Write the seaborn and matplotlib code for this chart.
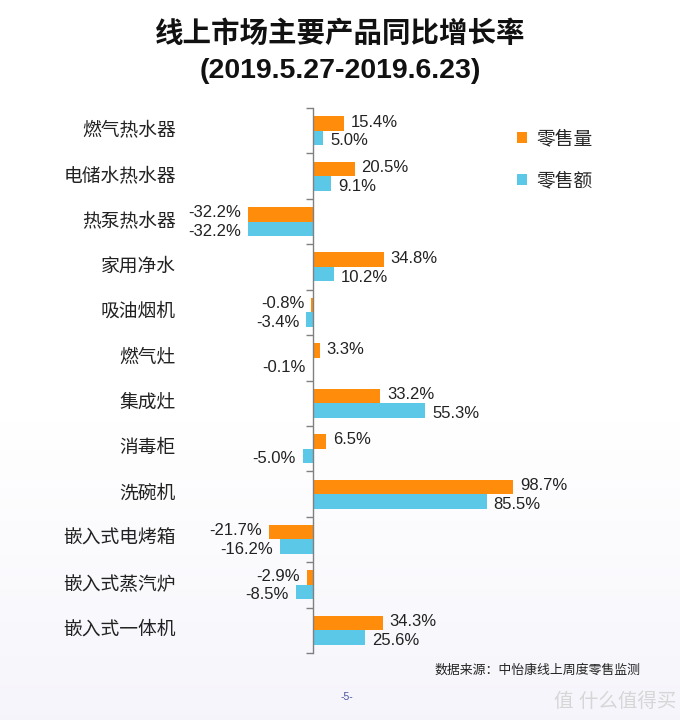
import numpy as np
import pandas as pd
import matplotlib
matplotlib.use("Agg")
import matplotlib.pyplot as plt
import seaborn as sns

# 数据
products = ["燃气热水器", "电储水热水器", "热泵热水器", "家用净水", "吸油烟机", "燃气灶",
            "集成灶", "消毒柜", "洗碗机", "嵌入式电烤箱", "嵌入式蒸汽炉", "嵌入式一体机"]
volume = [15.4, 20.5, -32.2, 34.8, -0.8, 3.3, 33.2, 6.5, 98.7, -21.7, -2.9, 34.3]
amount = [5.0, 9.1, -32.2, 10.2, -3.4, -0.1, 55.3, -5.0, 85.5, -16.2, -8.5, 25.6]
series = ["零售量", "零售额"]
colors = ["#FF8C0A", "#5BC8E8"]

df = pd.DataFrame({
    "product": products * 2,
    "value": volume + amount,
    "metric": [series[0]] * len(products) + [series[1]] * len(products),
})

sns.set_style("white")
plt.rcParams["font.family"] = ["Liberation Sans", "Noto Sans CJK SC", "DejaVu Sans"]

fig = plt.figure(figsize=(6.8, 7.2), dpi=100)

# 背景渐变（底部略带淡紫）
bg = fig.add_axes([0, 0, 1, 1], zorder=-10)
grad = np.ones((720, 1, 3))
t = np.clip((np.arange(720) - 420) / 300, 0, 1)[:, None]
grad[:, 0, :] = 1 - t * np.array([0.035, 0.04, 0.015])
bg.imshow(grad, aspect="auto", extent=[0, 1, 0, 1], origin="upper")
bg.axis("off")

ax = fig.add_axes([150 / 680, 67 / 720, 500 / 680, 545 / 720])
ax.patch.set_alpha(0)
sns.barplot(data=df, y="product", x="value", hue="metric", palette=colors,
            saturation=1, width=0.64, linewidth=0, ax=ax, orient="h")

# 数值标签：橙色略上移，蓝色略下移
for c, dy in zip(ax.containers, [1.0, -2.0]):
    texts = ax.bar_label(c, fmt="%.1f%%", padding=5, fontsize=12, color="#222222")
    for txt in texts:
        x0, _ = txt.xyann
        txt.xyann = (x0, dy)

ax.set_xlim(-80.3, 166)
ax.set_ylim(len(products) - 0.5, -0.5)
ax.set_xlabel("")
ax.set_ylabel("")

for s in ["top", "right", "bottom"]:
    ax.spines[s].set_visible(False)
ax.spines["left"].set_position(("data", 0))
ax.spines["left"].set_color("#808080")
ax.spines["left"].set_linewidth(1.0)
ax.set_xticks([])
ax.set_yticks(np.arange(-0.5, len(products), 1.0))
ax.set_yticklabels([])
ax.tick_params(axis="y", left=True, direction="out", length=5, color="#808080", width=1)

for i, p in enumerate(products):
    ax.text(0.052, i, p, transform=ax.get_yaxis_transform(), ha="right", va="center",
            fontsize=13.5, color="#222222")

handles, labels = ax.get_legend_handles_labels()
ax.legend(handles, labels, loc="upper left", bbox_to_anchor=(0.70, 0.99), frameon=False,
          fontsize=13.5, handlelength=0.55, handleheight=0.55, handletextpad=0.5,
          labelspacing=1.3)

fig.text(0.5, 0.953, "线上市场主要产品同比增长率", ha="center", va="center",
         fontsize=20.5, fontweight="bold", color="#111111")
fig.text(0.5, 0.901, "(2019.5.27-2019.6.23)", ha="center", va="center",
         fontsize=20.5, fontweight="bold", color="#111111")

fig.text(0.942, 0.069, "数据来源：中怡康线上周度零售监测", ha="right", va="center",
         fontsize=9.3, color="#222222")
fig.text(0.51, 0.032, "-5-", ha="center", va="center", fontsize=7.5, color="#4a55a0")
fig.text(0.995, 0.025, "值 什么值得买", ha="right", va="center", fontsize=14,
         color="#d6d6d6")

fig.savefig("out.png", dpi=100)
